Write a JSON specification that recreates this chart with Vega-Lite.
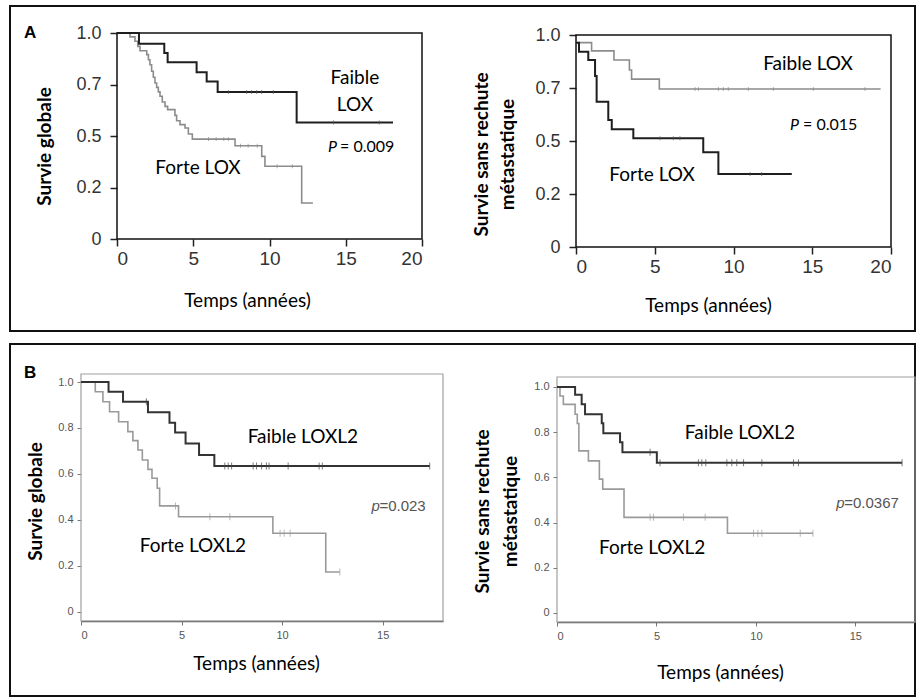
{
  "$schema": "https://vega.github.io/schema/vega-lite/v6.json",
  "padding": {"left": 9, "top": 5, "right": 0, "bottom": 0},
  "autosize": {"type": "pad"},
  "config": {
    "view": {"stroke": "#111", "strokeWidth": 2},
    "font": "Lato",
    "axis": {"grid": false}
  },
  "spacing": 11,
  "datasets": {
    "a1_lo": [{"t":0,"s":1},{"t":1.44,"s":0.948},{"t":3.1,"s":0.903},{"t":3.32,"s":0.858},{"t":5.22,"s":0.809},{"t":5.88,"s":0.765},{"t":6.6,"s":0.714},{"t":11.78,"s":0.566},{"t":18.1,"s":0.566}],
    "a1_hi": [{"t":0,"s":1},{"t":0.85,"s":0.981},{"t":1.18,"s":0.96},{"t":1.36,"s":0.935},{"t":1.51,"s":0.914},{"t":1.95,"s":0.895},{"t":2.06,"s":0.87},{"t":2.16,"s":0.846},{"t":2.27,"s":0.814},{"t":2.38,"s":0.785},{"t":2.49,"s":0.757},{"t":2.6,"s":0.736},{"t":2.71,"s":0.714},{"t":2.82,"s":0.693},{"t":2.97,"s":0.665},{"t":3.15,"s":0.644},{"t":3.32,"s":0.628},{"t":3.8,"s":0.6},{"t":3.91,"s":0.574},{"t":4.13,"s":0.555},{"t":4.46,"s":0.539},{"t":4.68,"s":0.51},{"t":4.94,"s":0.485},{"t":7.74,"s":0.453},{"t":9.49,"s":0.401},{"t":9.7,"s":0.353},{"t":12.11,"s":0.175},{"t":12.85,"s":0.175}],
    "a1_lo_c": [{"t":7.3,"s":0.714},{"t":8.5,"s":0.714},{"t":8.83,"s":0.714},{"t":9.16,"s":0.714},{"t":9.49,"s":0.714},{"t":10.25,"s":0.714},{"t":14.2,"s":0.566},{"t":17.2,"s":0.566}],
    "a1_hi_c": [{"t":6.0,"s":0.485},{"t":6.5,"s":0.485},{"t":7.0,"s":0.485},{"t":7.3,"s":0.485},{"t":8.1,"s":0.453},{"t":8.6,"s":0.453},{"t":9.2,"s":0.453},{"t":10.5,"s":0.353},{"t":11.5,"s":0.353}],
    "a2_lo": [{"t":0,"s":0.964},{"t":0.99,"s":0.925},{"t":2.41,"s":0.882},{"t":3.39,"s":0.835},{"t":3.53,"s":0.792},{"t":5.29,"s":0.745},{"t":19.34,"s":0.745}],
    "a2_hi": [{"t":0,"s":0.964},{"t":0.19,"s":0.921},{"t":0.78,"s":0.882},{"t":1.21,"s":0.807},{"t":1.31,"s":0.685},{"t":2.05,"s":0.599},{"t":2.27,"s":0.555},{"t":3.64,"s":0.513},{"t":8.08,"s":0.447},{"t":9.04,"s":0.344},{"t":13.7,"s":0.344}],
    "a2_lo_c": [{"t":7.56,"s":0.745},{"t":7.77,"s":0.745},{"t":9.04,"s":0.745},{"t":9.35,"s":0.745},{"t":9.67,"s":0.745},{"t":10.94,"s":0.745},{"t":12.53,"s":0.745},{"t":15.07,"s":0.745},{"t":18.35,"s":0.745}],
    "a2_hi_c": [{"t":5.33,"s":0.513},{"t":6.18,"s":0.513},{"t":6.6,"s":0.513},{"t":11.05,"s":0.344},{"t":11.79,"s":0.344}],
    "b1_lo": [{"t":0,"s":1},{"t":1.37,"s":0.958},{"t":2.09,"s":0.914},{"t":3.33,"s":0.868},{"t":4.4,"s":0.823},{"t":4.68,"s":0.78},{"t":5.2,"s":0.733},{"t":5.87,"s":0.683},{"t":6.63,"s":0.635},{"t":17.34,"s":0.635}],
    "b1_hi": [{"t":0,"s":1},{"t":0.71,"s":0.958},{"t":1.09,"s":0.914},{"t":1.42,"s":0.871},{"t":1.87,"s":0.827},{"t":2.33,"s":0.784},{"t":2.58,"s":0.745},{"t":2.83,"s":0.704},{"t":3.05,"s":0.661},{"t":3.33,"s":0.62},{"t":3.53,"s":0.581},{"t":3.79,"s":0.538},{"t":3.91,"s":0.461},{"t":4.85,"s":0.414},{"t":9.54,"s":0.342},{"t":12.17,"s":0.173},{"t":12.87,"s":0.173}],
    "b1_lo_c": [{"t":3.25,"s":0.914},{"t":7.15,"s":0.635},{"t":7.32,"s":0.635},{"t":7.49,"s":0.635},{"t":8.56,"s":0.635},{"t":8.73,"s":0.635},{"t":8.98,"s":0.635},{"t":9.22,"s":0.635},{"t":9.35,"s":0.635},{"t":10.3,"s":0.635},{"t":11.84,"s":0.635},{"t":12.0,"s":0.635},{"t":17.34,"s":0.635}],
    "b1_hi_c": [{"t":4.7,"s":0.461},{"t":6.41,"s":0.414},{"t":7.4,"s":0.414},{"t":9.9,"s":0.342},{"t":10.1,"s":0.342},{"t":10.4,"s":0.342},{"t":12.87,"s":0.173}],
    "b2_lo": [{"t":0,"s":1},{"t":0.91,"s":0.965},{"t":1.24,"s":0.923},{"t":1.41,"s":0.879},{"t":2.25,"s":0.839},{"t":2.33,"s":0.795},{"t":3.17,"s":0.755},{"t":3.29,"s":0.711},{"t":5.02,"s":0.665},{"t":17.35,"s":0.665}],
    "b2_hi": [{"t":0,"s":1},{"t":0.15,"s":0.96},{"t":0.32,"s":0.923},{"t":0.91,"s":0.879},{"t":1.02,"s":0.838},{"t":1.1,"s":0.717},{"t":1.58,"s":0.673},{"t":2.13,"s":0.592},{"t":2.3,"s":0.548},{"t":3.37,"s":0.423},{"t":8.57,"s":0.353},{"t":12.87,"s":0.353}],
    "b2_lo_c": [{"t":4.68,"s":0.711},{"t":5.18,"s":0.665},{"t":7.11,"s":0.665},{"t":7.28,"s":0.665},{"t":7.48,"s":0.665},{"t":8.54,"s":0.665},{"t":8.79,"s":0.665},{"t":9.04,"s":0.665},{"t":9.38,"s":0.665},{"t":10.3,"s":0.665},{"t":11.89,"s":0.665},{"t":12.14,"s":0.665},{"t":17.35,"s":0.665}],
    "b2_hi_c": [{"t":4.68,"s":0.423},{"t":4.85,"s":0.423},{"t":6.36,"s":0.423},{"t":7.45,"s":0.423},{"t":9.88,"s":0.353},{"t":10.1,"s":0.353},{"t":10.3,"s":0.353},{"t":12.23,"s":0.353},{"t":12.87,"s":0.353}]
  },
  "vconcat": [
    {
      "width": 905,
      "height": 325,
      "resolve": {"scale": {"x": "independent", "y": "independent"}, "axis": {"x": "independent", "y": "independent"}},
      "layer": [
        {
          "layer": [
            {
              "data": {"values": [{}]},
              "mark": {"type": "rect", "filled": false, "color": "#111", "strokeWidth": 1.5},
              "encoding": {
                "x": {"datum": 0, "type": "quantitative",
                  "scale": {"domain": [0, 20], "range": [107, 412], "nice": false, "zero": false},
                  "axis": {"orient": "bottom", "offset": -92, "values": [0, 5, 10, 15, 20], "domain": false, "tickSize": 7, "tickColor": "#222", "tickWidth": 1.5,
                    "labelFont": "Liberation Sans", "labelFontSize": 19, "labelColor": "#333", "labelPadding": 3,
                    "title": "Temps (années)", "titleFont": "Lato", "titleFontSize": 19, "titleFontWeight": "normal", "titleColor": "#000",
                    "titleX": 237, "titleY": 61, "titleAlign": "center", "titleBaseline": "middle"}},
                "x2": {"datum": 20},
                "y": {"datum": 0, "type": "quantitative",
                  "scale": {"domain": [0, 1], "range": [233, 27], "nice": false, "zero": false},
                  "axis": {"orient": "left", "offset": -107, "values": [0, 0.25, 0.5, 0.75, 1], "domain": false, "tickSize": 7, "tickColor": "#222", "tickWidth": 1.5,
                    "labelExpr": "datum.value == 1 ? '1.0' : datum.value == 0.75 ? '0.7' : datum.value == 0.5 ? '0.5' : datum.value == 0.25 ? '0.2' : '0'",
                    "labelFont": "Liberation Sans", "labelFontSize": 18, "labelColor": "#333", "labelPadding": 9,
                    "title": "Survie globale", "titleFont": "Lato", "titleFontSize": 19, "titleFontWeight": "bold", "titleColor": "#000",
                    "titleX": -73, "titleY": 140, "titleAngle": 270, "titleAlign": "center", "titleBaseline": "middle"}},
                "y2": {"datum": 1}
              }
            },
            {"data": {"name": "a1_hi"}, "mark": {"type": "line", "interpolate": "step-after", "color": "#8c8c8c", "strokeWidth": 1.6},
              "encoding": {"x": {"field": "t", "type": "quantitative"}, "y": {"field": "s", "type": "quantitative"}}},
            {"data": {"name": "a1_lo"}, "mark": {"type": "line", "interpolate": "step-after", "color": "#1e1e1e", "strokeWidth": 2},
              "encoding": {"x": {"field": "t", "type": "quantitative"}, "y": {"field": "s", "type": "quantitative"}}},
            {"data": {"name": "a1_hi_c"}, "mark": {"type": "tick", "orient": "vertical", "size": 4, "thickness": 1, "color": "#8c8c8c"},
              "encoding": {"x": {"field": "t", "type": "quantitative"}, "y": {"field": "s", "type": "quantitative"}}},
            {"data": {"name": "a1_lo_c"}, "mark": {"type": "tick", "orient": "vertical", "size": 4, "thickness": 1, "color": "#555"},
              "encoding": {"x": {"field": "t", "type": "quantitative"}, "y": {"field": "s", "type": "quantitative"}}},
            {"data": {"values": [{}]}, "mark": {"type": "text", "text": "A", "font": "Liberation Sans", "fontWeight": "bold", "fontSize": 17, "align": "center", "baseline": "middle", "color": "#000"},
              "encoding": {"x": {"datum": -5.7, "type": "quantitative"}, "y": {"datum": 0.998, "type": "quantitative"}}},
            {"data": {"values": [{}]}, "mark": {"type": "text", "text": "Faible", "font": "Lato", "fontSize": 19, "align": "center", "baseline": "middle", "color": "#000"},
              "encoding": {"x": {"datum": 15.6, "type": "quantitative"}, "y": {"datum": 0.783, "type": "quantitative"}}},
            {"data": {"values": [{}]}, "mark": {"type": "text", "text": "LOX", "font": "Lato", "fontSize": 19, "align": "center", "baseline": "middle", "color": "#000"},
              "encoding": {"x": {"datum": 15.6, "type": "quantitative"}, "y": {"datum": 0.65, "type": "quantitative"}}},
            {"data": {"values": [{}]}, "mark": {"type": "text", "text": "Forte LOX", "font": "Lato", "fontSize": 19, "align": "center", "baseline": "middle", "color": "#000"},
              "encoding": {"x": {"datum": 5.31, "type": "quantitative"}, "y": {"datum": 0.343, "type": "quantitative"}}},
            {"data": {"values": [{}]}, "mark": {"type": "text", "text": "P", "font": "Lato", "fontStyle": "italic", "fontSize": 16, "align": "left", "baseline": "middle", "color": "#000"},
              "encoding": {"x": {"datum": 13.84, "type": "quantitative"}, "y": {"datum": 0.448, "type": "quantitative"}}},
            {"data": {"values": [{}]}, "mark": {"type": "text", "text": "= 0.009", "font": "Lato", "fontSize": 16, "align": "left", "baseline": "middle", "dx": 12, "color": "#000"},
              "encoding": {"x": {"datum": 13.84, "type": "quantitative"}, "y": {"datum": 0.448, "type": "quantitative"}}}
          ]
        },
        {
          "layer": [
            {
              "data": {"values": [{}]},
              "mark": {"type": "rect", "filled": false, "color": "#111", "strokeWidth": 1.5},
              "encoding": {
                "x": {"datum": 0, "type": "quantitative",
                  "scale": {"domain": [0, 20], "range": [566, 881], "nice": false, "zero": false},
                  "axis": {"orient": "bottom", "offset": -84, "values": [0, 5, 10, 15, 20], "domain": false, "tickSize": 7, "tickColor": "#222", "tickWidth": 1.5,
                    "labelFont": "Liberation Sans", "labelFontSize": 19, "labelColor": "#333", "labelPadding": 3,
                    "title": "Temps (années)", "titleFont": "Lato", "titleFontSize": 19, "titleFontWeight": "normal", "titleColor": "#000",
                    "titleX": 698, "titleY": 58, "titleAlign": "center", "titleBaseline": "middle"}},
                "x2": {"datum": 20},
                "y": {"datum": 0, "type": "quantitative",
                  "scale": {"domain": [0, 1], "range": [241, 29], "nice": false, "zero": false},
                  "axis": {"orient": "left", "offset": -566, "values": [0, 0.25, 0.5, 0.75, 1], "domain": false, "tickSize": 7, "tickColor": "#222", "tickWidth": 1.5,
                    "labelExpr": "datum.value == 1 ? '1.0' : datum.value == 0.75 ? '0.7' : datum.value == 0.5 ? '0.5' : datum.value == 0.25 ? '0.2' : '0'",
                    "labelFont": "Liberation Sans", "labelFontSize": 18, "labelColor": "#333", "labelPadding": 9,
                    "title": ["Survie sans rechute", "métastatique"], "titleFont": "Lato", "titleFontSize": 19, "titleFontWeight": "bold", "titleColor": "#000", "titleLineHeight": 26,
                    "titleX": -95, "titleY": 148, "titleAngle": 270, "titleAlign": "center", "titleBaseline": "middle"}},
                "y2": {"datum": 1}
              }
            },
            {"data": {"name": "a2_lo"}, "mark": {"type": "line", "interpolate": "step-after", "color": "#8c8c8c", "strokeWidth": 1.6},
              "encoding": {"x": {"field": "t", "type": "quantitative"}, "y": {"field": "s", "type": "quantitative"}}},
            {"data": {"name": "a2_hi"}, "mark": {"type": "line", "interpolate": "step-after", "color": "#1e1e1e", "strokeWidth": 2},
              "encoding": {"x": {"field": "t", "type": "quantitative"}, "y": {"field": "s", "type": "quantitative"}}},
            {"data": {"name": "a2_lo_c"}, "mark": {"type": "tick", "orient": "vertical", "size": 4, "thickness": 1, "color": "#8c8c8c"},
              "encoding": {"x": {"field": "t", "type": "quantitative"}, "y": {"field": "s", "type": "quantitative"}}},
            {"data": {"name": "a2_hi_c"}, "mark": {"type": "tick", "orient": "vertical", "size": 4, "thickness": 1, "color": "#555"},
              "encoding": {"x": {"field": "t", "type": "quantitative"}, "y": {"field": "s", "type": "quantitative"}}},
            {"data": {"values": [{}]}, "mark": {"type": "text", "text": "Faible LOX", "font": "Lato", "fontSize": 19, "align": "center", "baseline": "middle", "color": "#000"},
              "encoding": {"x": {"datum": 14.73, "type": "quantitative"}, "y": {"datum": 0.863, "type": "quantitative"}}},
            {"data": {"values": [{}]}, "mark": {"type": "text", "text": "Forte LOX", "font": "Lato", "fontSize": 19, "align": "center", "baseline": "middle", "color": "#000"},
              "encoding": {"x": {"datum": 4.83, "type": "quantitative"}, "y": {"datum": 0.34, "type": "quantitative"}}},
            {"data": {"values": [{}]}, "mark": {"type": "text", "text": "P", "font": "Lato", "fontStyle": "italic", "fontSize": 16, "align": "left", "baseline": "middle", "color": "#000"},
              "encoding": {"x": {"datum": 13.59, "type": "quantitative"}, "y": {"datum": 0.575, "type": "quantitative"}}},
            {"data": {"values": [{}]}, "mark": {"type": "text", "text": "= 0.015", "font": "Lato", "fontSize": 16, "align": "left", "baseline": "middle", "dx": 13, "color": "#000"},
              "encoding": {"x": {"datum": 13.59, "type": "quantitative"}, "y": {"datum": 0.575, "type": "quantitative"}}}
          ]
        }
      ]
    },
    {
      "width": 905,
      "height": 352,
      "resolve": {"scale": {"x": "independent", "y": "independent"}, "axis": {"x": "independent", "y": "independent"}},
      "layer": [
        {
          "layer": [
            {
              "data": {"values": [{}]},
              "mark": {"type": "rect", "filled": false, "color": "#a0a0a0", "strokeWidth": 1.2},
              "encoding": {
                "x": {"datum": 0, "type": "quantitative",
                  "scale": {"domain": [0, 18], "range": [71, 433], "nice": false, "zero": false},
                  "axis": {"orient": "bottom", "offset": -75, "values": [0, 5, 10, 15], "domain": true, "domainColor": "#555", "domainWidth": 1.5, "tickSize": 4, "tickColor": "#777",
                    "labelFont": "Liberation Sans", "labelFontSize": 11, "labelColor": "#555", "labelPadding": 4,
                    "title": "Temps (années)", "titleFont": "Lato", "titleFontSize": 19, "titleFontWeight": "normal", "titleColor": "#000",
                    "titleX": 246, "titleY": 42, "titleAlign": "center", "titleBaseline": "middle"}},
                "x2": {"datum": 18},
                "y": {"datum": -0.04, "type": "quantitative",
                  "scale": {"domain": [-0.04, 1.035], "range": [277, 30], "nice": false, "zero": false},
                  "axis": {"orient": "left", "offset": -71, "values": [0, 0.2, 0.4, 0.6, 0.8, 1], "domain": false, "tickSize": 4, "tickColor": "#777",
                    "labelExpr": "datum.value == 0 ? '0' : format(datum.value, '.1f')",
                    "labelFont": "Liberation Sans", "labelFontSize": 11, "labelColor": "#555", "labelPadding": 4,
                    "title": "Survie globale", "titleFont": "Lato", "titleFontSize": 19, "titleFontWeight": "bold", "titleColor": "#000",
                    "titleX": -46, "titleY": 157, "titleAngle": 270, "titleAlign": "center", "titleBaseline": "middle"}},
                "y2": {"datum": 1.035}
              }
            },
            {"data": {"name": "b1_hi"}, "mark": {"type": "line", "interpolate": "step-after", "color": "#9a9a9a", "strokeWidth": 1.6},
              "encoding": {"x": {"field": "t", "type": "quantitative"}, "y": {"field": "s", "type": "quantitative"}}},
            {"data": {"name": "b1_lo"}, "mark": {"type": "line", "interpolate": "step-after", "color": "#333", "strokeWidth": 2},
              "encoding": {"x": {"field": "t", "type": "quantitative"}, "y": {"field": "s", "type": "quantitative"}}},
            {"data": {"name": "b1_hi_c"}, "mark": {"type": "tick", "orient": "vertical", "size": 7, "thickness": 1, "color": "#9a9a9a"},
              "encoding": {"x": {"field": "t", "type": "quantitative"}, "y": {"field": "s", "type": "quantitative"}}},
            {"data": {"name": "b1_lo_c"}, "mark": {"type": "tick", "orient": "vertical", "size": 7, "thickness": 1, "color": "#444"},
              "encoding": {"x": {"field": "t", "type": "quantitative"}, "y": {"field": "s", "type": "quantitative"}}},
            {"data": {"values": [{}]}, "mark": {"type": "text", "text": "B", "font": "Liberation Sans", "fontWeight": "bold", "fontSize": 17, "align": "center", "baseline": "middle", "color": "#000"},
              "encoding": {"x": {"datum": -2.53, "type": "quantitative"}, "y": {"datum": 1.041, "type": "quantitative"}}},
            {"data": {"values": [{}]}, "mark": {"type": "text", "text": "Faible LOXL2", "font": "Lato", "fontSize": 19, "align": "center", "baseline": "middle", "color": "#000"},
              "encoding": {"x": {"datum": 11.03, "type": "quantitative"}, "y": {"datum": 0.762, "type": "quantitative"}}},
            {"data": {"values": [{}]}, "mark": {"type": "text", "text": "Forte LOXL2", "font": "Lato", "fontSize": 19, "align": "center", "baseline": "middle", "color": "#000"},
              "encoding": {"x": {"datum": 5.56, "type": "quantitative"}, "y": {"datum": 0.288, "type": "quantitative"}}},
            {"data": {"values": [{}]}, "mark": {"type": "text", "text": "p", "font": "Liberation Sans", "fontStyle": "italic", "fontSize": 15, "align": "left", "baseline": "middle", "color": "#555"},
              "encoding": {"x": {"datum": 14.44, "type": "quantitative"}, "y": {"datum": 0.462, "type": "quantitative"}}},
            {"data": {"values": [{}]}, "mark": {"type": "text", "text": "=0.023", "font": "Liberation Sans", "fontSize": 15, "align": "left", "baseline": "middle", "dx": 8, "color": "#555"},
              "encoding": {"x": {"datum": 14.44, "type": "quantitative"}, "y": {"datum": 0.462, "type": "quantitative"}}}
          ]
        },
        {
          "layer": [
            {
              "data": {"values": [{}]},
              "mark": {"type": "rect", "filled": false, "color": "#a0a0a0", "strokeWidth": 1.2},
              "encoding": {
                "x": {"datum": 0, "type": "quantitative",
                  "scale": {"domain": [0, 18], "range": [547, 905], "nice": false, "zero": false},
                  "axis": {"orient": "bottom", "offset": -74, "values": [0, 5, 10, 15], "domain": true, "domainColor": "#555", "domainWidth": 1.5, "tickSize": 4, "tickColor": "#777",
                    "labelFont": "Liberation Sans", "labelFontSize": 11, "labelColor": "#555", "labelPadding": 4,
                    "title": "Temps (années)", "titleFont": "Lato", "titleFontSize": 19, "titleFontWeight": "normal", "titleColor": "#000",
                    "titleX": 710, "titleY": 50, "titleAlign": "center", "titleBaseline": "middle"}},
                "x2": {"datum": 18},
                "y": {"datum": -0.04, "type": "quantitative",
                  "scale": {"domain": [-0.04, 1.044], "range": [278, 33], "nice": false, "zero": false},
                  "axis": {"orient": "left", "offset": -547, "values": [0, 0.2, 0.4, 0.6, 0.8, 1], "domain": false, "tickSize": 4, "tickColor": "#777",
                    "labelExpr": "datum.value == 0 ? '0' : format(datum.value, '.1f')",
                    "labelFont": "Liberation Sans", "labelFontSize": 11, "labelColor": "#555", "labelPadding": 4,
                    "title": ["Survie sans rechute", "métastatique"], "titleFont": "Lato", "titleFontSize": 19, "titleFontWeight": "bold", "titleColor": "#000", "titleLineHeight": 28,
                    "titleX": -75, "titleY": 167, "titleAngle": 270, "titleAlign": "center", "titleBaseline": "middle"}},
                "y2": {"datum": 1.044}
              }
            },
            {"data": {"name": "b2_hi"}, "mark": {"type": "line", "interpolate": "step-after", "color": "#9a9a9a", "strokeWidth": 1.6},
              "encoding": {"x": {"field": "t", "type": "quantitative"}, "y": {"field": "s", "type": "quantitative"}}},
            {"data": {"name": "b2_lo"}, "mark": {"type": "line", "interpolate": "step-after", "color": "#333", "strokeWidth": 2},
              "encoding": {"x": {"field": "t", "type": "quantitative"}, "y": {"field": "s", "type": "quantitative"}}},
            {"data": {"name": "b2_hi_c"}, "mark": {"type": "tick", "orient": "vertical", "size": 7, "thickness": 1, "color": "#9a9a9a"},
              "encoding": {"x": {"field": "t", "type": "quantitative"}, "y": {"field": "s", "type": "quantitative"}}},
            {"data": {"name": "b2_lo_c"}, "mark": {"type": "tick", "orient": "vertical", "size": 7, "thickness": 1, "color": "#444"},
              "encoding": {"x": {"field": "t", "type": "quantitative"}, "y": {"field": "s", "type": "quantitative"}}},
            {"data": {"values": [{}]}, "mark": {"type": "text", "text": "Faible LOXL2", "font": "Lato", "fontSize": 19, "align": "center", "baseline": "middle", "color": "#000"},
              "encoding": {"x": {"datum": 9.2, "type": "quantitative"}, "y": {"datum": 0.795, "type": "quantitative"}}},
            {"data": {"values": [{}]}, "mark": {"type": "text", "text": "Forte LOXL2", "font": "Lato", "fontSize": 19, "align": "center", "baseline": "middle", "color": "#000"},
              "encoding": {"x": {"datum": 4.78, "type": "quantitative"}, "y": {"datum": 0.289, "type": "quantitative"}}},
            {"data": {"values": [{}]}, "mark": {"type": "text", "text": "p", "font": "Liberation Sans", "fontStyle": "italic", "fontSize": 15, "align": "left", "baseline": "middle", "color": "#555"},
              "encoding": {"x": {"datum": 14.04, "type": "quantitative"}, "y": {"datum": 0.485, "type": "quantitative"}}},
            {"data": {"values": [{}]}, "mark": {"type": "text", "text": "=0.0367", "font": "Liberation Sans", "fontSize": 15, "align": "left", "baseline": "middle", "dx": 8, "color": "#555"},
              "encoding": {"x": {"datum": 14.04, "type": "quantitative"}, "y": {"datum": 0.485, "type": "quantitative"}}}
          ]
        }
      ]
    }
  ]
}
